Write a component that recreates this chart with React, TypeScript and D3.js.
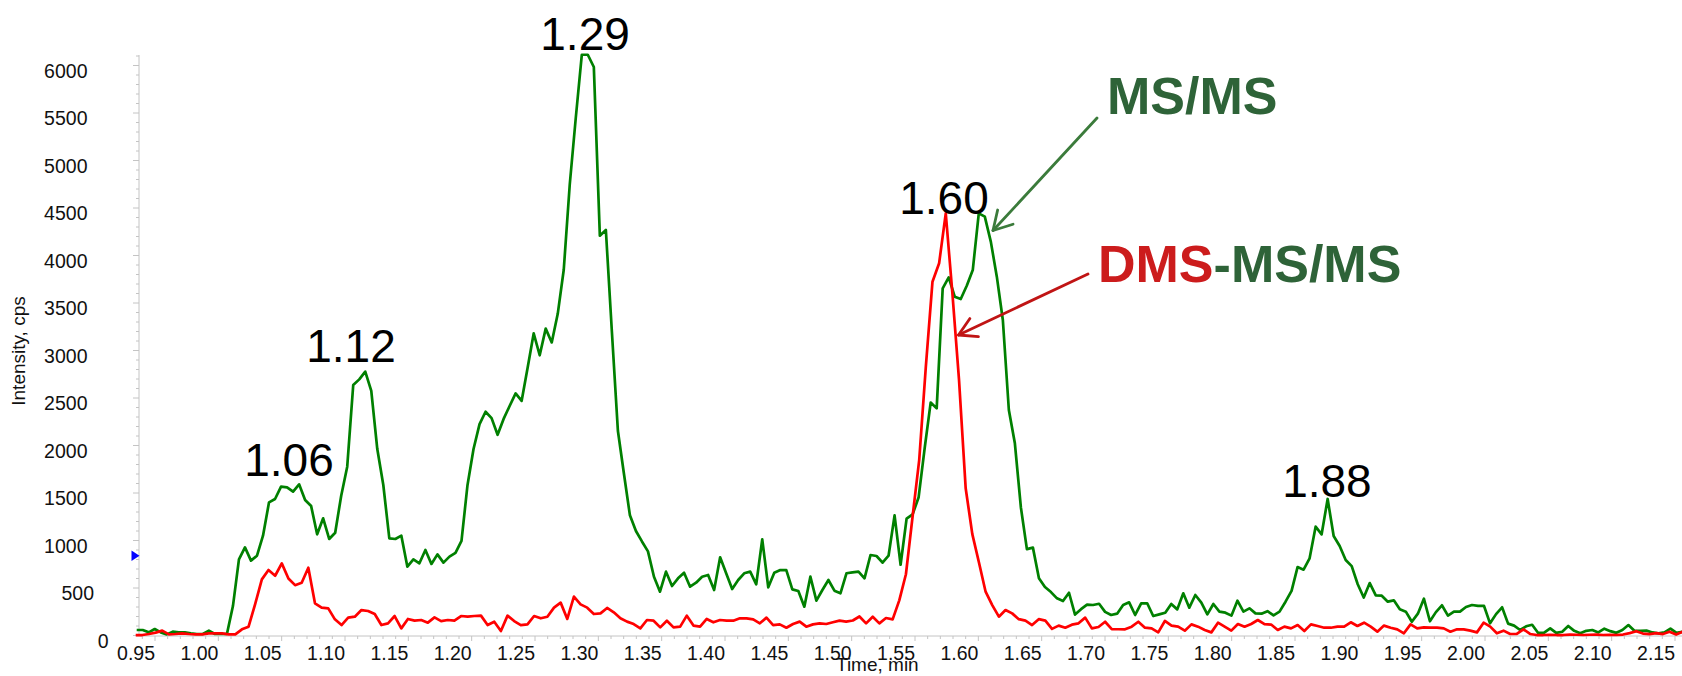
import React from "react";
import * as d3 from "d3";

// ---- data ----
const MSMS_SCAN_START = 0.93555; // min
const MSMS_SCAN_STEP = 0.0047486; // min per scan
const MSMS = [
  58, 58, 33, 68, 33, 12, 40, 33, 33, 23,
  16, 16, 51, 16, 16, 16, 310, 802, 928, 788,
  840, 1051, 1402, 1437, 1567, 1560, 1514, 1591, 1426, 1363,
  1065, 1234, 1016, 1082, 1472, 1777, 2637, 2696, 2777, 2574,
  1963, 1584, 1023, 1016, 1051, 724, 802, 760, 900, 753,
  854, 767, 830, 870, 995, 1585, 1963, 2225, 2355, 2288,
  2113, 2280, 2416, 2549, 2470, 2822, 3180, 2950, 3230, 3085,
  3386, 3850, 4750, 5450, 6113, 6113, 5984, 4208, 4268, 3200,
  2155, 1705, 1265, 1100, 990, 886, 619, 461, 672, 521,
  602, 661, 514, 556, 619, 637, 479, 823, 655, 489,
  584, 655, 672, 539, 1012, 507, 661, 689, 689, 486,
  468, 303, 619, 367, 479, 584, 472, 444, 655, 665,
  672, 602, 847, 837, 767, 840, 1265, 745, 1230, 1275,
  1456, 1970, 2452, 2391, 3654, 3770, 3567, 3542, 3682, 3847,
  4444, 4409, 4146, 3777, 3321, 2374, 2023, 1348, 909, 925,
  603, 510, 457, 391, 363, 450, 220, 277, 325, 321,
  334, 249, 216, 230, 321, 349, 216, 339, 339, 205,
  222, 240, 332, 275, 444, 293, 426, 346, 223, 332,
  251, 240, 209, 367, 251, 286, 233, 230, 256, 212,
  251, 356, 470, 720, 693, 812, 1146, 1065, 1437, 1047,
  942, 795, 730, 540, 400, 552, 422, 419, 356, 370,
  276, 251, 145, 230, 388, 150, 246, 318, 209, 251,
  251, 300, 321, 311, 311, 128, 225, 297, 125, 104,
  58, 97, 113, 27, 30, 75, 27, 40, 100, 49,
  23, 49, 58, 32, 72, 46, 28, 58, 110, 49,
  49, 51, 32, 23, 32, 72, 27, 40,
];

const DMS_SCAN_START = 0.93476;
const DMS_SCAN_STEP = 0.005242;
const DMS = [
  5, 5, 16, 30, 51, 12, 16, 23, 16, 12,
  12, 23, 23, 23, 12, 12, 65, 93, 332, 591,
  689, 629, 759, 600, 530, 555, 714, 339, 293, 286,
  170, 110, 188, 198, 268, 258, 226, 110, 128, 205,
  75, 174, 156, 163, 135, 191, 152, 163, 156, 205,
  198, 205, 209, 110, 145, 47, 209, 152, 110, 117,
  205, 181, 198, 293, 346, 174, 409, 328, 293, 226,
  233, 290, 244, 181, 146, 121, 75, 163, 156, 86,
  156, 86, 93, 209, 104, 93, 174, 139, 163, 156,
  156, 181, 181, 170, 128, 188, 110, 117, 82, 121,
  146, 93, 117, 128, 121, 139, 156, 146, 158, 200,
  128, 198, 128, 184, 170, 370, 645, 1250, 1847, 2830,
  3724, 3918, 4444, 3602, 2689, 1550, 1067, 768, 461, 320,
  198, 268, 233, 172, 156, 110, 172, 156, 70, 104,
  82, 114, 128, 188, 75, 90, 145, 67, 66, 65,
  93, 145, 82, 75, 33, 153, 104, 93, 51, 117,
  93, 58, 33, 135, 93, 51, 121, 93, 121, 163,
  120, 115, 58, 93, 75, 110, 47, 117, 100, 82,
  82, 93, 93, 139, 100, 135, 93, 40, 104, 82,
  65, 23, 117, 75, 86, 82, 82, 75, 40, 65,
  65, 51, 33, 135, 93, 23, 51, 16, 16, 65,
  16, 5, 5, 8, 5, 5, 10, 8, 5, 8,
  10, 5, 8, 5, 10, 25, 45, 20, 15, 25,
  15, 40, 10, 40,
];

const X_TICKS = ["0.95","1.00","1.05","1.10","1.15","1.20","1.25","1.30","1.35","1.40","1.45","1.50","1.55","1.60","1.65","1.70","1.75","1.80","1.85","1.90","1.95","2.00","2.05","2.10","2.15"];
const Y_TICKS = [0, 500, 1000, 1500, 2000, 2500, 3000, 3500, 4000, 4500, 5000, 5500, 6000];

const PEAKS = [
  { text: "1.06", t: 1.0558, v: 1679 },
  { text: "1.12", t: 1.1047, v: 2879 },
  { text: "1.29", t: 1.2895, v: 6163 },
  { text: "1.60", t: 1.5729, v: 4437 },
  { text: "1.88", t: 1.8752, v: 1458 },
];

const FONT = "'Liberation Sans', Arial, Helvetica, sans-serif";

export default function App() {
  const W = 1682, H = 676;
  const x = d3.scaleLinear().domain([0.95, 2.15]).range([155, 1675]);
  const y = d3.scaleLinear().domain([0, 6000]).range([635.5, 65.5]);
  const axisX = 139;
  const axisY = 636;
  const axisColor = "#c4c4c4";

  const lineFor = (start: number, step: number) =>
    d3.line<number>()
      .x((_, i) => x(start + i * step))
      .y((d) => y(d));

  const greenPath = lineFor(MSMS_SCAN_START, MSMS_SCAN_STEP)(MSMS) || "";
  const redPath = lineFor(DMS_SCAN_START, DMS_SCAN_STEP)(DMS) || "";

  const yMinor = d3.range(0, 6101, 100);
  const xMinor = d3.range(94, 216).map((k) => k / 100).filter((t) => x(t) >= axisX && x(t) <= W);

  const arrowHead = (x1: number, y1: number, x2: number, y2: number, len: number) => {
    const dx = x1 - x2, dy = y1 - y2;
    const L = Math.hypot(dx, dy);
    const ux = dx / L, uy = dy / L;
    const a = Math.PI / 6;
    const r = (ang: number) => [
      x2 + len * (ux * Math.cos(ang) - uy * Math.sin(ang)),
      y2 + len * (ux * Math.sin(ang) + uy * Math.cos(ang)),
    ];
    const p1 = r(a), p2 = r(-a);
    return `M${p1[0]},${p1[1]}L${x2},${y2}L${p2[0]},${p2[1]}`;
  };

  return (
    <svg
      width={W}
      height={H}
      viewBox={`0 0 ${W} ${H}`}
      style={{ position: "absolute", left: 0, top: 0, display: "block", background: "#fff" }}
      fontFamily={FONT}
    >
      <defs>
        <filter id="soft" x="-5%" y="-20%" width="110%" height="140%">
          <feGaussianBlur stdDeviation="0.55" />
        </filter>
      </defs>
      <rect x={0} y={0} width={W} height={H} fill="#fff" />

      {/* axes */}
      <line x1={axisX} y1={55} x2={axisX} y2={axisY} stroke={axisColor} strokeWidth={1} />
      <line x1={axisX - 3} y1={axisY} x2={W} y2={axisY} stroke={axisColor} strokeWidth={1} />
      {yMinor.map((v) => (
        <line
          key={"ym" + v}
          x1={v % 500 === 0 ? axisX - 6 : axisX - 3}
          x2={axisX}
          y1={y(v)}
          y2={y(v)}
          stroke={axisColor}
          strokeWidth={1}
        />
      ))}
      {xMinor.map((t) => {
        const major = Math.round(t * 100) % 5 === 0;
        return (
          <line
            key={"xm" + t}
            x1={x(t)}
            x2={x(t)}
            y1={axisY}
            y2={axisY + (major ? 5 : 3)}
            stroke={axisColor}
            strokeWidth={1}
          />
        );
      })}

      {/* y tick labels */}
      {Y_TICKS.map((v) => {
        let tx = 87.5;
        let ty = y(v) + 12.3;
        if (v === 500) tx = 94;
        if (v === 0) { tx = 108.5; ty = 648.3; }
        return (
          <text key={"yl" + v} x={tx} y={ty} fontSize={19.5} textAnchor="end" fill="#111">
            {v}
          </text>
        );
      })}

      {/* x tick labels */}
      {X_TICKS.map((s) => (
        <text key={"xl" + s} x={x(+s)} y={660} fontSize={19.5} textAnchor="end" fill="#111">
          {s}
        </text>
      ))}

      {/* axis titles */}
      <text x={836} y={671} fontSize={19} fill="#111">Time, min</text>
      <text transform="translate(24.5,351) rotate(-90)" fontSize={19} textAnchor="middle" fill="#111">
        Intensity, cps
      </text>

      {/* blue marker */}
      <polygon points="131.5,550.5 131.5,561 139.5,555.7" fill="#0000ff" />

      {/* traces */}
      <path d={greenPath} fill="none" stroke="#008000" strokeWidth={2.7} strokeLinejoin="round" />
      <path d={redPath} fill="none" stroke="#ff0000" strokeWidth={2.7} strokeLinejoin="round" />

      {/* peak labels */}
      {PEAKS.map((p) => (
        <text key={p.text} x={x(p.t)} y={y(p.v)} fontSize={46} textAnchor="middle" fill="#000">
          {p.text}
        </text>
      ))}

      {/* legend annotations */}
      <g filter="url(#soft)">
        <text x={1107} y={114} fontSize={52} fontWeight="bold" fill="#2f6338">MS/MS</text>
        <text x={1098} y={282} fontSize={52} fontWeight="bold">
          <tspan fill="#cc1a1e">DMS</tspan>
          <tspan fill="#2f6338">-MS/MS</tspan>
        </text>
      </g>

      {/* arrows */}
      <g fill="none" strokeWidth={2.8} strokeLinecap="round" strokeLinejoin="round">
        <line x1={1097} y1={118} x2={993} y2={230.5} stroke="#3b7b3b" />
        <path d={arrowHead(1097, 118, 993, 230.5, 21)} stroke="#3b7b3b" />
        <line x1={1088} y1={274} x2={958.5} y2={335} stroke="#c01414" />
        <path d={arrowHead(1088, 274, 958.5, 335, 20)} stroke="#c01414" />
      </g>
    </svg>
  );
}
